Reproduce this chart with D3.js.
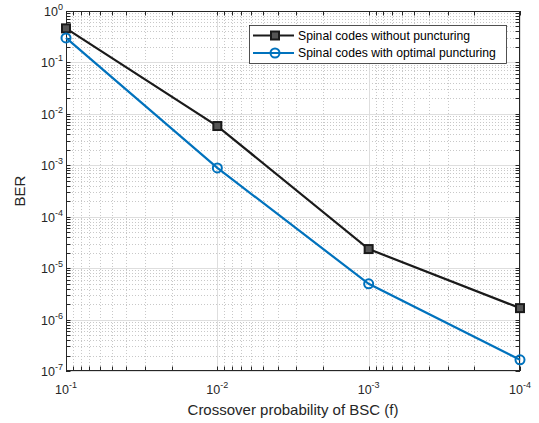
<!DOCTYPE html>
<html>
<head>
<meta charset="utf-8">
<script src="https://cdn.jsdelivr.net/npm/d3@7"></script>
<style>
  body { margin: 0; background: #fff; }
  svg { display: block; font-family: 'Liberation Sans', Arial, sans-serif; }
</style>
</head>
<body>
<svg width="539" height="423"></svg>
<script>
// crossover probabilities (x) and BER per series
const crossover = [1e-1, 1e-2, 1e-3, 1e-4]
const berNoPuncture = [0.46, 5.8e-3, 2.35e-5, 1.67e-6]
const berOptimal = [0.30, 8.9e-4, 4.95e-6, 1.65e-7]
const seriesNames = ['Spinal codes without puncturing', 'Spinal codes with optimal puncturing']
const xTickExps = [-1, -2, -3, -4]
const yTickExps = [0, -1, -2, -3, -4, -5, -6, -7]

const svg = d3.select('svg')
const plot = {left: 66, right: 520, top: 11, bottom: 371}
const axisColor = '#262626'

const x = d3.scaleLog().domain([1e-1, 1e-4]).range([plot.left, plot.right])
const y = d3.scaleLog().domain([1e-7, 1]).range([plot.bottom, plot.top])

// minor values
const xMinor = []
for (let e = -4; e < -1; e++) for (let m = 2; m <= 9; m++) xMinor.push(m * Math.pow(10, e))
const yMinor = []
for (let e = -7; e < 0; e++) for (let m = 2; m <= 9; m++) yMinor.push(m * Math.pow(10, e))

const snap = v => Math.round(v) + 0.5

const grid = svg.append('g')
// minor grid (dotted)
grid.selectAll('.xmg').data(xMinor).enter().append('line')
  .attr('x1', d => snap(x(d))).attr('x2', d => snap(x(d)))
  .attr('y1', plot.top).attr('y2', plot.bottom)
  .attr('stroke', '#c8c8c8').attr('stroke-dasharray', '1,2')
grid.selectAll('.ymg').data(yMinor).enter().append('line')
  .attr('y1', d => snap(y(d))).attr('y2', d => snap(y(d)))
  .attr('x1', plot.left).attr('x2', plot.right)
  .attr('stroke', '#c8c8c8').attr('stroke-dasharray', '1,2')
// major grid
grid.selectAll('.xg').data(xTickExps).enter().append('line')
  .attr('x1', d => snap(x(Math.pow(10, d)))).attr('x2', d => snap(x(Math.pow(10, d))))
  .attr('y1', plot.top).attr('y2', plot.bottom)
  .attr('stroke', '#dedede')
grid.selectAll('.yg').data(yTickExps).enter().append('line')
  .attr('y1', d => snap(y(Math.pow(10, d)))).attr('y2', d => snap(y(Math.pow(10, d))))
  .attr('x1', plot.left).attr('x2', plot.right)
  .attr('stroke', '#dedede')

// ticks (inward, on all four sides)
const tickLen = 4.5
const ticks = svg.append('g').attr('stroke', axisColor)
const xAll = xTickExps.map(e => Math.pow(10, e)).concat(xMinor)
const yAll = yTickExps.map(e => Math.pow(10, e)).concat(yMinor)
xAll.forEach(v => {
  const px = snap(x(v))
  ticks.append('line').attr('x1', px).attr('x2', px).attr('y1', plot.bottom).attr('y2', plot.bottom - tickLen)
  ticks.append('line').attr('x1', px).attr('x2', px).attr('y1', plot.top).attr('y2', plot.top + tickLen)
})
yAll.forEach(v => {
  const py = snap(y(v))
  ticks.append('line').attr('y1', py).attr('y2', py).attr('x1', plot.left).attr('x2', plot.left + tickLen)
  ticks.append('line').attr('y1', py).attr('y2', py).attr('x1', plot.right).attr('x2', plot.right - tickLen)
})

// box
svg.append('rect')
  .attr('x', plot.left + 0.5).attr('y', plot.top + 0.5)
  .attr('width', plot.right - plot.left - 1).attr('height', plot.bottom - plot.top - 1)
  .attr('fill', 'none').attr('stroke', axisColor).attr('stroke-width', 1)

// tick labels
const xLabels = svg.append('g').attr('fill', axisColor).attr('font-size', 12.5)
xTickExps.forEach(e => {
  const t = xLabels.append('text')
    .attr('x', x(Math.pow(10, e))).attr('y', plot.bottom + 22.5)
    .attr('text-anchor', 'middle')
  t.append('tspan').text('10')
  t.append('tspan').attr('font-size', 9).attr('dy', -6).text(String(e))
})
const yLabels = svg.append('g').attr('fill', axisColor).attr('font-size', 12.5)
yTickExps.forEach(e => {
  const t = yLabels.append('text')
    .attr('x', plot.left - 3).attr('y', y(Math.pow(10, e)) + 5)
    .attr('text-anchor', 'end')
  t.append('tspan').text('10')
  t.append('tspan').attr('font-size', 9).attr('dy', -6).text(String(e))
})

// axis titles
svg.append('text')
  .attr('x', (plot.left + plot.right) / 2).attr('y', 415)
  .attr('text-anchor', 'middle').attr('font-size', 15).attr('fill', axisColor)
  .text('Crossover probability of BSC (f)')
svg.append('text')
  .attr('transform', 'translate(25,' + ((plot.top + plot.bottom) / 2) + ') rotate(-90)')
  .attr('text-anchor', 'middle').attr('font-size', 15).attr('fill', axisColor)
  .text('BER')

// series
const series = [
  { name: seriesNames[0], values: berNoPuncture, color: '#1a1a1a', marker: 'square' },
  { name: seriesNames[1], values: berOptimal, color: '#0072bd', marker: 'circle' }
]
const line = d3.line().x(d => x(d[0])).y(d => y(d[1]))

function drawMarker (g, type, color, cx, cy) {
  if (type === 'square') {
    g.append('rect').attr('x', cx - 4).attr('y', cy - 4).attr('width', 8).attr('height', 8)
      .attr('fill', '#555').attr('stroke', color).attr('stroke-width', 2)
  } else {
    g.append('circle').attr('cx', cx).attr('cy', cy).attr('r', 4.5)
      .attr('fill', 'none').attr('stroke', color).attr('stroke-width', 2)
  }
}

series.forEach(s => {
  const pts = crossover.map((c, i) => [c, s.values[i]])
  const g = svg.append('g')
  g.append('path').datum(pts).attr('d', line)
    .attr('fill', 'none').attr('stroke', s.color).attr('stroke-width', 2.2)
  pts.forEach(p => drawMarker(g, s.marker, s.color, x(p[0]), y(p[1])))
})

// legend
const lg = svg.append('g')
lg.append('rect').attr('x', 249.5).attr('y', 25.5).attr('width', 257).attr('height', 38)
  .attr('fill', '#fff').attr('stroke', axisColor).attr('stroke-width', 0.8)
series.forEach((s, i) => {
  const ly = 35.5 + i * 17.5
  lg.append('line').attr('x1', 253).attr('x2', 294).attr('y1', ly).attr('y2', ly)
    .attr('stroke', s.color).attr('stroke-width', 2.2)
  drawMarker(lg, s.marker, s.color, 275, ly)
  lg.append('text').attr('x', 298).attr('y', ly + 4.3)
    .attr('font-size', 12.2).attr('fill', '#000').text(s.name)
})
</script>
</body>
</html>
